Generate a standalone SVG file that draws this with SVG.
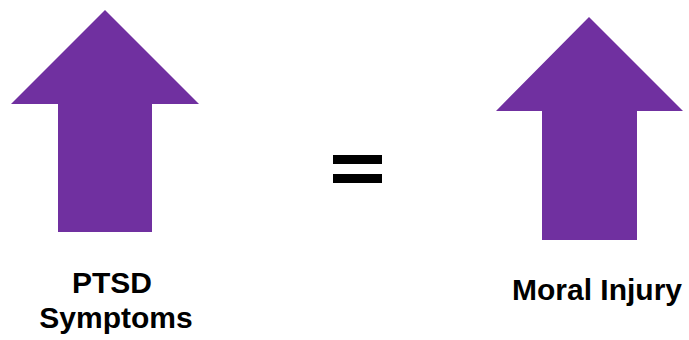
<svg xmlns="http://www.w3.org/2000/svg" width="689" height="340" viewBox="0 0 689 340">
<style>
.arrow{fill:#7030A0;}
.eq{fill:#000;}
.lbl{font-family:"Liberation Sans",Arial,sans-serif;font-weight:bold;font-size:30px;fill:#000;text-anchor:middle;}
</style>
<rect width="689" height="340" fill="#fff"/>
<g id="arrow-left"><polygon class="arrow" points="105,10 199,104 152,104 152,232 58,232 58,104 11,104"/></g>
<g id="arrow-right"><polygon class="arrow" points="589,17 683,111 637,111 637,240 542,240 542,111 496,111"/></g>
<g id="equals"><rect class="eq" x="333" y="155" width="49" height="9"/><rect class="eq" x="333" y="174" width="49" height="9"/></g>
<g id="label-left"><text class="lbl" x="112" y="293">PTSD</text><text class="lbl" x="116" y="328">Symptoms</text></g>
<g id="label-right"><text class="lbl" x="597" y="300">Moral Injury</text></g>
</svg>
